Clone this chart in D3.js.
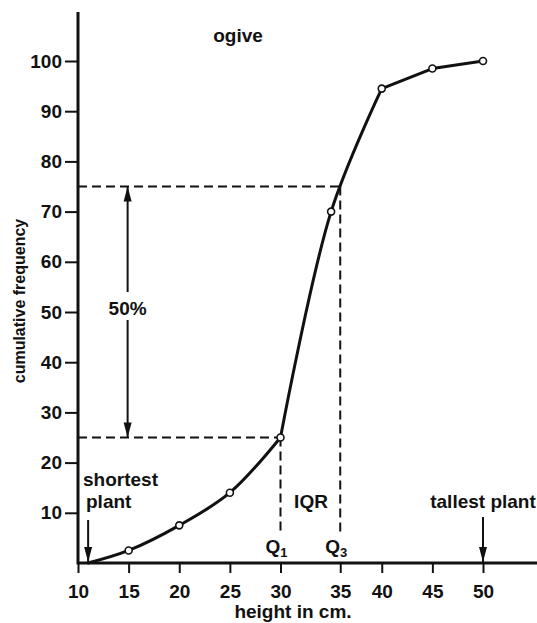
<!DOCTYPE html>
<html>
<head>
<meta charset="utf-8">
<script src="https://cdn.jsdelivr.net/npm/d3@7"></script>
<style>
  body { margin: 0; background: #fff; }
  svg text { font-family: "Liberation Sans", Arial, sans-serif; fill: #111; }
</style>
</head>
<body>
<svg width="537" height="623"></svg>
<script>
// ogive data: height (cm) vs cumulative frequency (%)
const heights = [11, 15, 20, 25, 30, 35, 40, 45, 50]
const cumFreq = [0, 2.5, 7.5, 14, 25, 70, 94.5, 98.5, 100]

const yTicks = [10, 20, 30, 40, 50, 60, 70, 80, 90, 100]
// the original draws its "35" tick on the Q3 line
const xTickValues = [10, 15, 20, 25, 30, 35.9, 40, 45, 50]
const xTickLabels = ['10', '15', '20', '25', '30', '35', '40', '45', '50']

const Q1 = 30
const Q3 = 35.9
const lowerPct = 25
const upperPct = 75
const shortest = 11
const tallest = 50

const WIDTH = 537
const INK = '#111'

const x = d3.scaleLinear().domain([10, 50]).range([78, 483])
const y = d3.scaleLinear().domain([0, 100]).range([563, 61])

const svg = d3.select('svg')

// axes lines
svg.append('line')
  .attr('x1', x(10)).attr('x2', WIDTH)
  .attr('y1', y(0)).attr('y2', y(0))
  .attr('stroke', INK).attr('stroke-width', 3)
svg.append('line')
  .attr('x1', x(10)).attr('x2', x(10))
  .attr('y1', y(0) + 1.5).attr('y2', 12)
  .attr('stroke', INK).attr('stroke-width', 3)

const yAxis = svg.append('g')
  .attr('transform', `translate(${x(10)},0)`)
  .call(d3.axisLeft(y).tickValues(yTicks).tickSize(13).tickPadding(3))
yAxis.select('.domain').remove()
yAxis.selectAll('line').attr('stroke', INK).attr('stroke-width', 2)
yAxis.selectAll('text')
  .attr('font-size', 19).attr('font-weight', 'bold')
  .attr('font-family', '"Liberation Sans", Arial, sans-serif').attr('fill', INK)

const xAxis = svg.append('g')
  .attr('transform', `translate(0,${y(0)})`)
  .call(d3.axisBottom(x).tickValues(xTickValues).tickSize(10).tickPadding(12)
    .tickFormat((d, i) => xTickLabels[i]))
xAxis.select('.domain').remove()
xAxis.selectAll('line').attr('stroke', INK).attr('stroke-width', 2)
xAxis.selectAll('text')
  .attr('font-size', 19).attr('font-weight', 'bold')
  .attr('font-family', '"Liberation Sans", Arial, sans-serif').attr('fill', INK)

// dashed quartile guides
const dash = '9,5'
function dashed(x1, y1, x2, y2) {
  svg.append('line')
    .attr('x1', x1).attr('y1', y1).attr('x2', x2).attr('y2', y2)
    .attr('stroke', INK).attr('stroke-width', 2)
    .attr('stroke-dasharray', dash)
}
dashed(x(10), y(upperPct), x(Q3), y(upperPct))
dashed(x(Q3), y(upperPct), x(Q3), 535)
dashed(x(10), y(lowerPct), x(Q1), y(lowerPct))
dashed(x(Q1), y(lowerPct), x(Q1), 535)

// arrows
function arrowHead(px, py, dir) {
  // dir = -1 points up, 1 points down
  const len = 15, half = 4
  svg.append('path')
    .attr('d', `M${px},${py} L${px - half},${py - dir * len} L${px + half},${py - dir * len} Z`)
    .attr('fill', INK)
}
function vline(px, y1, y2) {
  svg.append('line')
    .attr('x1', px).attr('x2', px).attr('y1', y1).attr('y2', y2)
    .attr('stroke', INK).attr('stroke-width', 2)
}

const ax = x(15) - 1
vline(ax, y(upperPct), 292)
arrowHead(ax, y(upperPct), -1)
vline(ax, 320, y(lowerPct))
arrowHead(ax, y(lowerPct), 1)

vline(x(shortest), 520, y(0))
arrowHead(x(shortest), y(0) - 1, 1)
vline(x(tallest), 517, y(0))
arrowHead(x(tallest), y(0) - 1, 1)

// ogive curve: smooth lower tail, steep middle, near-straight top
const pts = heights.map((h, i) => [h, cumFreq[i]])
function ogivePart(data, curve) {
  const line = d3.line()
    .x(d => x(d[0]))
    .y(d => y(d[1]))
    .curve(curve)
  svg.append('path')
    .datum(data)
    .attr('d', line)
    .attr('fill', 'none')
    .attr('stroke', INK)
    .attr('stroke-width', 3)
    .attr('stroke-linecap', 'round')
    .attr('stroke-linejoin', 'round')
}
ogivePart(pts.slice(0, 5), d3.curveCatmullRom.alpha(0.5))
ogivePart(pts.slice(4, 7), d3.curveCatmullRom.alpha(0.5))
ogivePart(pts.slice(6), d3.curveLinear)

svg.selectAll('.pt')
  .data(pts.slice(1))
  .enter().append('circle')
  .attr('class', 'pt')
  .attr('cx', d => x(d[0]))
  .attr('cy', d => y(d[1]))
  .attr('r', 3.5)
  .attr('fill', '#fff')
  .attr('stroke', INK)
  .attr('stroke-width', 1.6)

// labels
function label(txt, px, py, anchor, size, weight) {
  return svg.append('text')
    .attr('x', px).attr('y', py)
    .attr('text-anchor', anchor || 'start')
    .attr('font-size', size || 19)
    .attr('font-weight', weight || 'bold')
    .text(txt)
}

label('ogive', 238, 42, 'middle')
label('50%', ax, 315, 'middle')
label('shortest', 83, 486)
label('plant', 86, 508)
label('IQR', 311, 508, 'middle')
label('tallest plant', x(tallest), 508, 'middle')
label('height in cm.', 293, 618, 'middle')

const q1 = label('Q', x(Q1) - 4, 553, 'middle')
q1.append('tspan').attr('font-size', 13).attr('dy', 4).text('1')
const q3 = label('Q', x(Q3) - 4, 553, 'middle')
q3.append('tspan').attr('font-size', 13).attr('dy', 4).text('3')

svg.append('text')
  .attr('transform', 'translate(25,301) rotate(-90)')
  .attr('text-anchor', 'middle')
  .attr('font-size', 16)
  .attr('font-weight', 'bold')
  .text('cumulative frequency')
</script>
</body>
</html>
